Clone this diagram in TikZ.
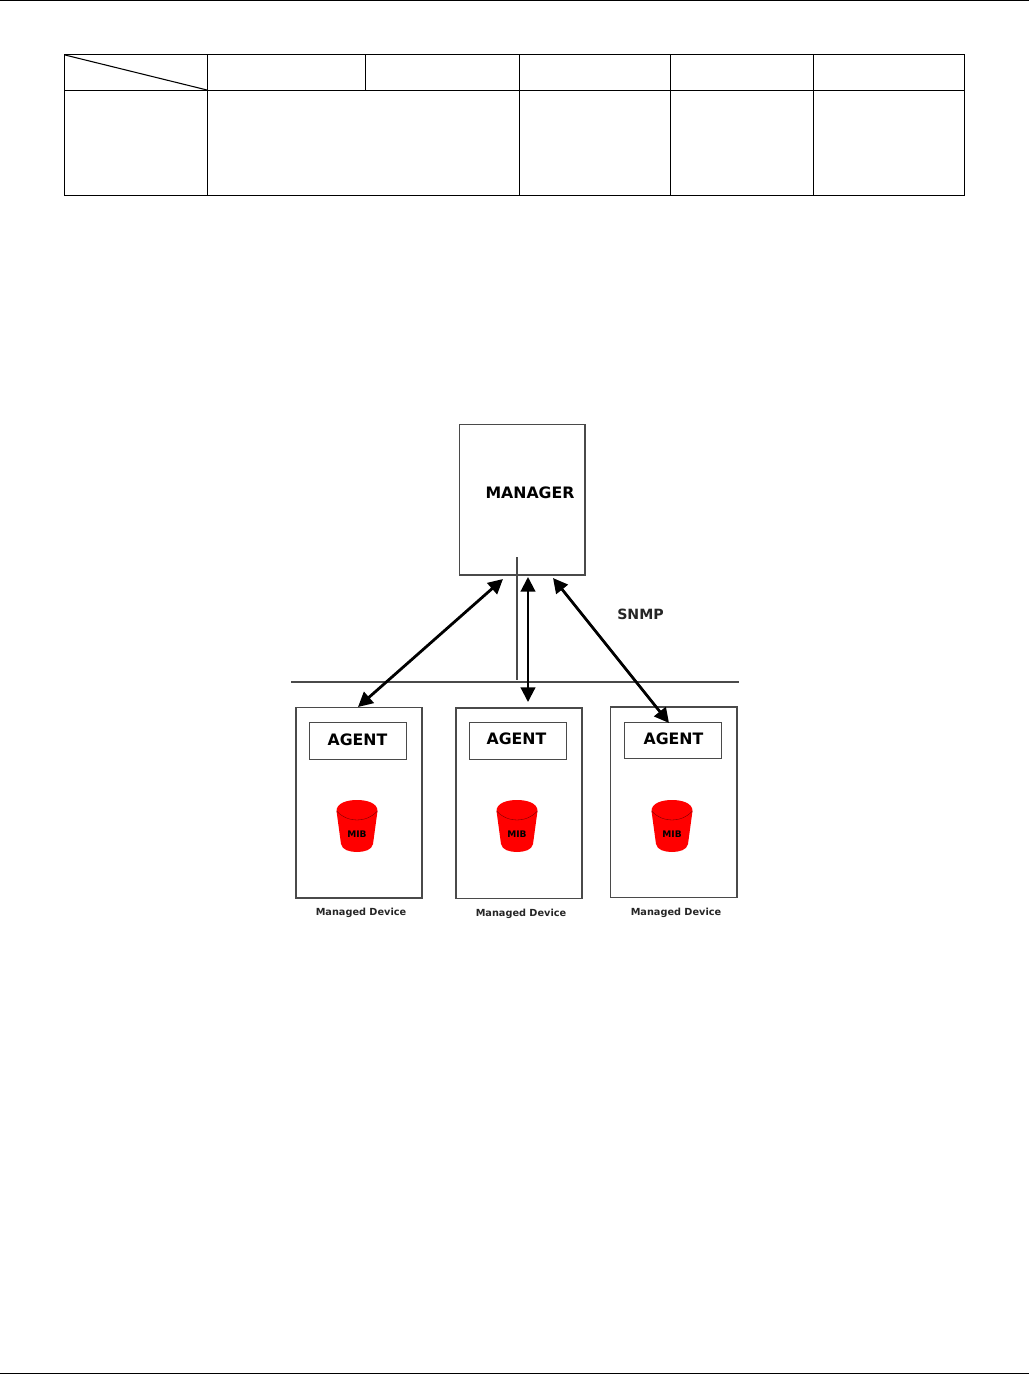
\documentclass[tikz,border=0pt]{standalone}
\usepackage{fontspec}
\setmainfont{DejaVu Sans}
\usetikzlibrary{arrows.meta}
\definecolor{boxline}{HTML}{4A4A4A}
\definecolor{mibred}{HTML}{FF0000}
\newcommand{\mibcan}[3]{% name, centre x, top y
  \begin{scope}[shift={(#2,#3)}]
    \path[fill=mibred] (-20.5,11) .. controls (-20.5,3) and (-10,0) .. (0,0) .. controls (10,0) and (20.5,3) .. (20.5,11)
      -- (16,44) .. controls (15,50) and (7,52) .. (0,52) .. controls (-7,52) and (-15,50) .. (-16,44) -- cycle;
    \draw[line width=0.25pt,draw=black!60!red] (-20.5,11) .. controls (-14,18) and (-6,20) .. (0,20) .. controls (6,20) and (14,18) .. (20.5,11);
    \node[miblabel] (#1) at (0,34.5) {MIB};
  \end{scope}}
\tikzset{
  x=0.75pt,y=-0.75pt,
  boxstyle/.style={draw=boxline,line width=0.8pt,fill=none,inner sep=0pt,outer sep=0pt,anchor=north west},
  tableline/.style={draw=black,line width=0.8pt},
  rule/.style={draw=boxline,line width=0.8pt},
  link/.style={draw=black,line width=2.1pt,{Triangle[length=11pt,width=11pt]}-{Triangle[length=11pt,width=11pt]}},
  midlink/.style={link,line width=1.6pt},
  agenttext/.style={font=\fontsize{11.8pt}{13pt}\selectfont\bfseries,inner sep=0pt,text=black},
  snmptext/.style={font=\fontsize{10.6pt}{13pt}\selectfont\bfseries,inner sep=0pt,text=black!85},
  miblabel/.style={font=\fontsize{6.8pt}{8pt}\selectfont\bfseries,inner sep=0pt,text=black},
  devtext/.style={font=\fontsize{7.3pt}{9pt}\selectfont\bfseries,inner sep=0pt,text=black!85},
}
\begin{document}
\begin{tikzpicture}
\useasboundingbox (0,0) rectangle (1029,1374);
\fill[white] (0,0) rectangle (1029,1374);
% page rules
\draw[draw=black,line width=0.9pt] (0,0.5) -- (1029,0.5);
\draw[draw=black,line width=0.9pt] (0,1373.3) -- (1029,1373.3);
% table
\draw[tableline] (64.5,54.5) rectangle (964.5,195.5);
\draw[tableline] (64.5,90.5) -- (964.5,90.5);
\draw[tableline] (207.5,54.5) -- (207.5,195.5);
\draw[tableline] (365.5,54.5) -- (365.5,90.5);
\draw[tableline] (519.5,54.5) -- (519.5,195.5);
\draw[tableline] (670.5,54.5) -- (670.5,195.5);
\draw[tableline] (813.5,54.5) -- (813.5,195.5);
\draw[tableline] (65,55) -- (207,90);
% boxes
\node[boxstyle,minimum width=125.5*0.75pt,minimum height=150.5*0.75pt] (manager) at (459.5,424.5) {};
\node[agenttext] (managerlabel) at (530,493) {MANAGER};
\node[boxstyle,minimum width=126*0.75pt,minimum height=190.5*0.75pt] (dev1) at (296,707.5) {};
\node[boxstyle,minimum width=126*0.75pt,minimum height=190.5*0.75pt] (dev2) at (456,708) {};
\node[boxstyle,minimum width=126.5*0.75pt,minimum height=190.5*0.75pt] (dev3) at (610.5,707) {};
\node[boxstyle,minimum width=97*0.75pt,minimum height=37*0.75pt] (agent1) at (309.5,722.5) {};
\node[boxstyle,minimum width=97*0.75pt,minimum height=37*0.75pt] (agent2) at (469.5,722.5) {};
\node[boxstyle,minimum width=97*0.75pt,minimum height=36*0.75pt] (agent3) at (624.5,722.5) {};
\node[agenttext] (agentlabel1) at (357.5,739.5) {AGENT};
\node[agenttext] (agentlabel2) at (516.5,738.5) {AGENT};
\node[agenttext] (agentlabel3) at (673.5,739) {AGENT};
\mibcan{mib1}{357}{800}
\mibcan{mib2}{517}{800}
\mibcan{mib3}{672}{800}
\node[devtext] (devlabel1) at (361,913) {Managed Device};
\node[devtext] (devlabel2) at (521,913.5) {Managed Device};
\node[devtext] (devlabel3) at (676,912.5) {Managed Device};
\node[snmptext] (snmp) at (640.5,614) {SNMP};
% network rules
\coordinate (vtop) at (517,557);
\coordinate (vbot) at (517,680);
\coordinate (hl) at (291,682);
\coordinate (hr) at (739,682);
\draw[rule] (vtop) -- (vbot);
\draw[rule] (hl) -- (hr);
% links
\coordinate (a1) at (503,579);
\coordinate (b1) at (358,707);
\coordinate (a2) at (528,577);
\coordinate (b2) at (528,702);
\coordinate (a3) at (553,578);
\coordinate (b3) at (669,723);
\draw[link] (a1) -- (b1);
\draw[midlink] (a2) -- (b2);
\draw[link] (a3) -- (b3);
\end{tikzpicture}
\end{document}
